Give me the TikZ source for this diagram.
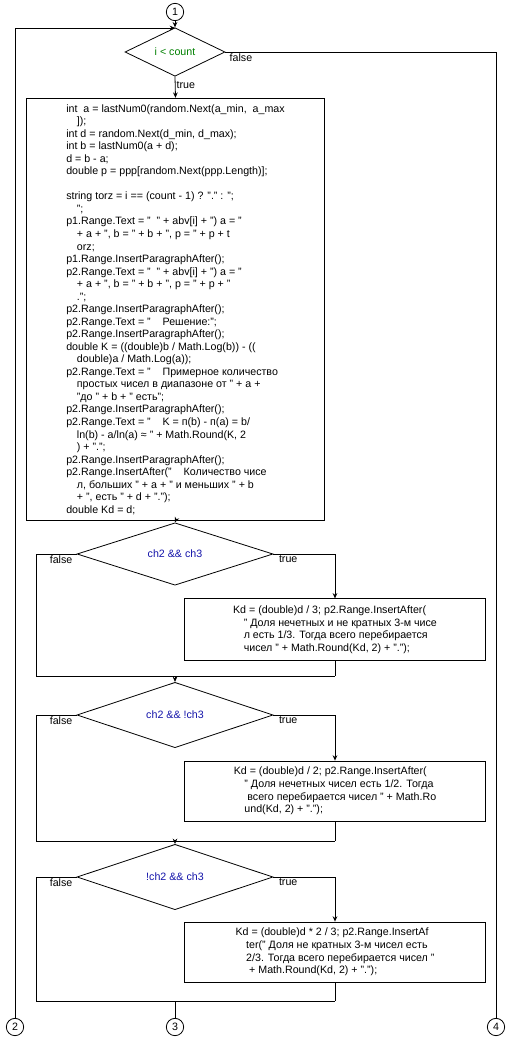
\documentclass[tikz,border=0pt]{standalone}
\usepackage{fontspec}
\setmainfont{Liberation Sans}
\usetikzlibrary{shapes.geometric,arrows.meta}

\definecolor{condgreen}{RGB}{0,128,0}
\definecolor{condblue}{RGB}{20,20,170}
\newcommand{\ind}{\hspace*{8pt}}

\begin{document}
\begin{tikzpicture}[x=0.75pt,y=-0.75pt,
  every node/.style={font=\fontsize{8}{9.4}\selectfont},
  line/.style={line width=0.6pt},
  arr/.style={line width=0.6pt,-{Stealth[length=4pt,width=3.5pt]}},
  cond/.style={diamond,draw,line width=0.6pt,inner sep=0pt,minimum height=30pt},
  proc/.style={rectangle,draw,line width=0.6pt,align=left,inner sep=0pt},
  conn/.style={circle,draw,line width=0.6pt,inner sep=0pt,minimum size=13pt},
  lbl/.style={inner sep=1pt}]
\path[use as bounding box,fill=white] (0,0) rectangle (513,1042);

% connectors
\node[conn] (c1) at (175,12) {1};
\node[conn] (c2) at (15,1027) {2};
\node[conn] (c3) at (175,1027) {3};
\node[conn] (c4) at (496,1027) {4};

% loop condition
\node[cond,minimum width=75pt,text=condgreen] (d1) at (175,52) {i < count};

\node[proc,minimum width=224pt,minimum height=317pt] (body) at (175.5,309.5) {%
int\ \ a = lastNum0(random.Next(a\_min,\ \ a\_max\\
\ind ]);\\
int d = random.Next(d\_min, d\_max);\\
int b = lastNum0(a + d);\\
d = b - a;\\
double p = ppp[random.Next(ppp.Length)];\\
\mbox{}\\
string torz = i == (count - 1) ? "." : ";\\
\ind ";\\
p1.Range.Text = "\ \ " + abv[i] + ") a = "\\
\ind + a + ", b = " + b + ", p = " + p + t\\
\ind orz;\\
p1.Range.InsertParagraphAfter();\\
p2.Range.Text = "\ \ " + abv[i] + ") a = "\\
\ind + a + ", b = " + b + ", p = " + p + "\\
\ind .";\\
p2.Range.InsertParagraphAfter();\\
p2.Range.Text = "\ \ \ \ Решение:";\\
p2.Range.InsertParagraphAfter();\\
double K = ((double)b / Math.Log(b)) - ((\\
\ind double)a / Math.Log(a));\\
p2.Range.Text = "\ \ \ \ Примерное количество\\
\ind простых чисел в диапазоне от " + a +\\
\ind "до " + b + " есть";\\
p2.Range.InsertParagraphAfter();\\
p2.Range.Text = "\ \ \ \ K = п(b) - п(a) = b/\\
\ind ln(b) - a/ln(a) ≈ " + Math.Round(K, 2\\
\ind ) + ".";\\
p2.Range.InsertParagraphAfter();\\
p2.Range.InsertAfter("\ \ \ \ Количество чисе\\
\ind л, больших " + a + " и меньших " + b\\
\ind + ", есть " + d + ".");\\
double Kd = d;};

% first branch
\node[cond,minimum width=147pt,text=condblue] (d2) at (175,554) {ch2 \&\& ch3};
\node[proc,minimum width=226pt,minimum height=46pt] (b2) at (335,629.5) {%
Kd = (double)d / 3; p2.Range.InsertAfter(\\
\ind " Доля нечетных и не кратных 3-м чисе\\
\ind л есть 1/3. Тогда всего перебирается\\
\ind чисел " + Math.Round(Kd, 2) + ".");};

% second branch
\node[cond,minimum width=147pt,text=condblue] (d3) at (175,715) {ch2 \&\& !ch3};
\node[proc,minimum width=226pt,minimum height=45pt] (b3) at (335,791) {%
Kd = (double)d / 2; p2.Range.InsertAfter(\\
\ind " Доля нечетных чисел есть 1/2. Тогда\\
\ind\ всего перебирается чисел " + Math.Ro\\
\ind und(Kd, 2) + ".");};

% third branch
\node[cond,minimum width=147pt,text=condblue] (d4) at (175,877) {!ch2 \&\& ch3};
\node[proc,minimum width=226pt,minimum height=45pt] (b4) at (335,952) {%
Kd = (double)d * 2 / 3; p2.Range.InsertAf\\
\ind ter(" Доля не кратных 3-м чисел есть\\
\ind 2/3. Тогда всего перебирается чисел "\\
\ind\ + Math.Round(Kd, 2) + ".");};

\coordinate (loop) at (175,28);
\coordinate (j2l) at (36,676);
\coordinate (j2) at (175,676);
\coordinate (j2r) at (335,676);
\coordinate (j3l) at (36,841);
\coordinate (j3) at (175,841);
\coordinate (j3r) at (335,841);
\coordinate (j4l) at (36,1001);
\coordinate (j4) at (175,1001);
\coordinate (j4r) at (335,1001);

\draw[arr] (c1.south) -- (d1.north);
\draw[arr] (c2.north) |- (loop);
\draw[line] (d1.east) -| (c4.north);
\draw[arr] (d1.south) -- (body.north);
\node[lbl,anchor=north west] (f1) at ([xshift=2pt]d1.east) {false};
\node[lbl,anchor=west] (t1) at ([yshift=-6pt]d1.south) {true};

\draw[arr] (body.south) -- (d2.north);
\draw[line] (d2.west) -| (j2l) -- (j2r);
\draw[arr] (d2.east) -| (b2.north);
\draw[line] (b2.south) -- (j2r);
\node[lbl,anchor=north east] (f2) at ([xshift=-2pt]d2.west) {false};
\node[lbl,anchor=north west] (t2) at ([xshift=3pt]d2.east) {true};

\draw[arr] (j2) -- (d3.north);
\draw[line] (d3.west) -| (j3l) -- (j3r);
\draw[arr] (d3.east) -| (b3.north);
\draw[line] (b3.south) -- (j3r);
\node[lbl,anchor=north east] (f3) at ([xshift=-2pt]d3.west) {false};
\node[lbl,anchor=north west] (t3) at ([xshift=3pt]d3.east) {true};

\draw[arr] (j3) -- (d4.north);
\draw[line] (d4.west) -| (j4l) -- (j4r);
\draw[arr] (d4.east) -| (b4.north);
\draw[line] (b4.south) -- (j4r);
\node[lbl,anchor=north east] (f4) at ([xshift=-2pt]d4.west) {false};
\node[lbl,anchor=north west] (t4) at ([xshift=3pt]d4.east) {true};

\draw[line] (j4) -- (c3.north);
\end{tikzpicture}
\end{document}
